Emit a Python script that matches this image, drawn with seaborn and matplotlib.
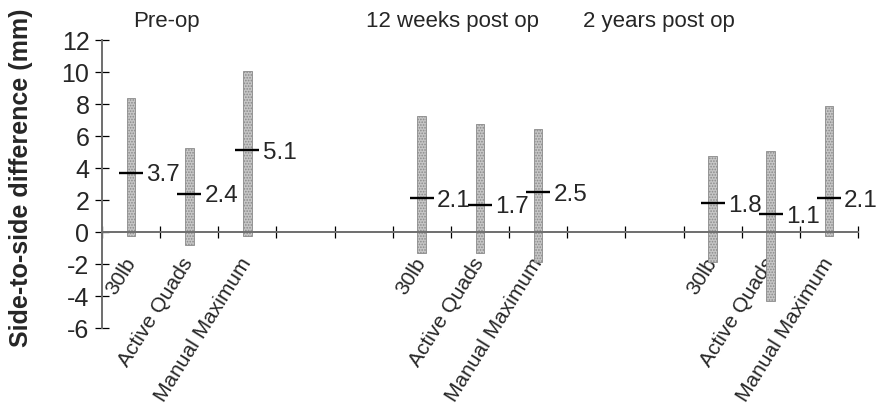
import numpy as np
import pandas as pd
import matplotlib
matplotlib.use("Agg")
import matplotlib.pyplot as plt
import seaborn as sns

# Measurement periods and tests
groups = ["Pre-op", "12 weeks post op", "2 years post op"]
tests = ["30lb", "Active Quads", "Manual Maximum"]

# Mean side-to-side difference (mm) and the range of each test
means = [3.7, 2.4, 5.1, 2.1, 1.7, 2.5, 1.8, 1.1, 2.1]
upper = [8.35, 5.25, 10.05, 7.25, 6.75, 6.45, 4.75, 5.05, 7.85]
lower = [-0.25, -0.8, -0.25, -1.3, -1.3, -1.85, -1.85, -4.3, -0.25]

yticks = [-6, -4, -2, 0, 2, 4, 6, 8, 10, 12]

# Slot layout: three tests per period, two empty slots between periods
slots_per_group = 5
n_slots = 13
positions = [g * slots_per_group + t for g in range(len(groups)) for t in range(len(tests))]

df = pd.DataFrame({
    "group": np.repeat(groups, len(tests)),
    "test": tests * len(groups),
    "mean": means,
    "low": lower,
    "high": upper,
    "pos": positions,
})

sns.set_theme(style="ticks")
plt.rcParams["font.family"] = ["Liberation Sans", "DejaVu Sans"]
plt.rcParams["hatch.linewidth"] = 0.8

fig = plt.figure(figsize=(8.77, 4.05), dpi=100)
ax = fig.add_axes([0.1163, 0.19, 0.862, 0.711])

# Range bars
ax.bar(df["pos"], df["high"] - df["low"], bottom=df["low"], width=0.15,
       color="#c6c6c6", edgecolor="#8a8a8a", hatch="......", linewidth=0.6, zorder=2)

# Mean markers
sns.scatterplot(data=df, x="pos", y="mean", marker="_", s=300, color="black",
                linewidth=1.7, ax=ax, zorder=3, legend=False)

# Mean value labels
for _, r in df.iterrows():
    ax.annotate(f"{r['mean']:.1f}", xy=(r["pos"], r["mean"]), xytext=(11, -6.2),
                textcoords="offset points", fontsize=17.5, ha="left", va="baseline",
                zorder=4)

# Period titles
title_x = [0.03, 4.04, 7.77]
for x, t in zip(title_x, groups):
    ax.text(x, 12.8, t, fontsize=16, ha="left", va="baseline", clip_on=False)

# Axes
ax.set_xlim(-0.5, n_slots - 0.5)
ax.set_ylim(-6, 12)
ax.set_yticks(yticks)
ax.set_yticklabels([str(v) for v in yticks])
ax.set_xticks(np.arange(-0.5, n_slots, 1.0))
ax.set_xticklabels([])
ax.set_xticks(df["pos"], labels=df["test"], minor=True)

ax.spines["bottom"].set_position(("data", 0))
ax.spines["top"].set_visible(False)
ax.spines["right"].set_visible(False)
for s in ("left", "bottom"):
    ax.spines[s].set_color("#6e6e6e")
    ax.spines[s].set_linewidth(1.4)

ax.tick_params(axis="x", which="major", direction="inout", length=8, width=0.9,
               color="black", bottom=True)
ax.tick_params(axis="x", which="minor", length=0, pad=20, labelsize=15)
ax.tick_params(axis="y", direction="inout", length=10, width=0.9, color="black",
               labelsize=18, pad=4, left=True)
for lab in ax.get_xticklabels(minor=True):
    lab.set_rotation(58)
    lab.set_ha("right")
    lab.set_va("center")
    lab.set_rotation_mode("anchor")

ax.set_xlabel("")
ax.set_ylabel("Side-to-side difference (mm)", fontsize=18, fontweight="bold")
ax.yaxis.set_label_coords(-0.091, 0.523)

fig.savefig("out.png", dpi=100)
